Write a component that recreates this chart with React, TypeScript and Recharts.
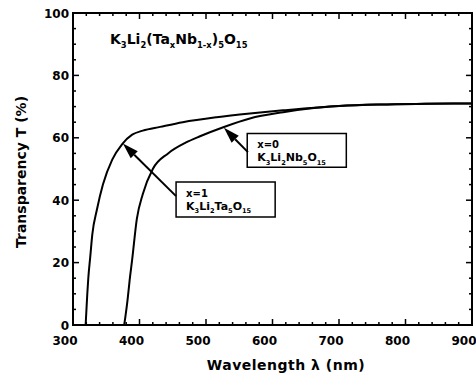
import React from 'react';
import { LineChart, Line, XAxis, YAxis, ReferenceLine, ReferenceArea } from 'recharts';

// x = 1, K3Li2Ta5O15
const wlTa = [319, 320, 321.5, 323, 326, 329, 336, 345, 359, 374, 389, 405, 431, 465, 516, 566, 616, 700, 762, 830, 900];
const tTa = [0, 4, 10, 15, 22, 29, 37, 45, 53, 58, 61, 62.3, 63.5, 65, 66.6, 67.8, 68.8, 70.2, 70.7, 70.9, 71];

// x = 0, K3Li2Nb5O15
const wlNb = [377, 379, 382, 385, 389, 396, 405, 420, 443, 470, 491, 526, 566, 616, 656, 700, 762, 830, 900];
const tNb = [0, 3, 8, 14, 21, 34, 42, 50, 55, 58.5, 60.5, 63.4, 66.2, 68.2, 69.4, 70.2, 70.7, 70.9, 71];

const xMajor = [300, 400, 500, 600, 700, 800, 900];
const xMinor = [320, 340, 360, 380, 420, 440, 460, 480, 520, 540, 560, 580, 620, 640, 660, 680, 720, 740, 760, 780, 820, 840, 860, 880];
const yMajor = [0, 20, 40, 60, 80, 100];
const yMinor = [5, 10, 15, 25, 30, 35, 45, 50, 55, 65, 70, 75, 85, 90, 95];

const taData = wlTa.map((w, i) => ({ wl: w, t: tTa[i] }));
const nbData = wlNb.map((w, i) => ({ wl: w, t: tNb[i] }));

const FONT = '"DejaVu Sans", sans-serif';

type Part = [string, boolean];

function Chem({ x, y, parts, size }: { x: number; y: number; parts: Part[]; size: number }) {
  let prevSub = false;
  return (
    <text x={x} y={y} fontFamily={FONT} fontWeight="bold" fontSize={size} fill="#000">
      {parts.map(([t, sub], i) => {
        const dy = sub && !prevSub ? size * 0.3 : !sub && prevSub ? -size * 0.3 : 0;
        prevSub = sub;
        return (
          <tspan key={i} dy={dy} fontSize={sub ? size * 0.6 : size}>
            {t}
          </tspan>
        );
      })}
    </text>
  );
}

const titleParts: Part[] = [
  ['K', false], ['3', true], ['Li', false], ['2', true], ['(Ta', false], ['x', true],
  ['Nb', false], ['1-x', true], [')', false], ['5', true], ['O', false], ['15', true],
];
const nbParts: Part[] = [['K', false], ['3', true], ['Li', false], ['2', true], ['Nb', false], ['5', true], ['O', false], ['15', true]];
const taParts: Part[] = [['K', false], ['3', true], ['Li', false], ['2', true], ['Ta', false], ['5', true], ['O', false], ['15', true]];

const BottomLabel = (p: any) => (
  <text x={p.x - 8} y={p.y + 20} textAnchor="middle" fontFamily={FONT} fontWeight="bold" fontSize={12} fill="#000">
    {p.payload.value}
  </text>
);

const LeftLabel = (p: any) => (
  <text x={p.x - 4} y={p.y + 4.5} textAnchor="end" fontFamily={FONT} fontWeight="bold" fontSize={12} fill="#000">
    {p.payload.value}
  </text>
);

// inward tick marks on both ends of a full-height / full-width reference line
const vTicks = (len: number) => (p: any) => {
  const top = Math.min(p.y1, p.y2);
  const bot = Math.max(p.y1, p.y2);
  return (
    <g>
      <line x1={p.x1} y1={bot} x2={p.x1} y2={bot - len} stroke="#000" strokeWidth={1.5} />
      <line x1={p.x1} y1={top} x2={p.x1} y2={top + len} stroke="#000" strokeWidth={1.5} />
    </g>
  );
};

const hTicks = (len: number) => (p: any) => {
  const l = Math.min(p.x1, p.x2);
  const r = Math.max(p.x1, p.x2);
  return (
    <g>
      <line x1={l} y1={p.y1} x2={l + len} y2={p.y1} stroke="#000" strokeWidth={1.5} />
      <line x1={r} y1={p.y1} x2={r - len} y2={p.y1} stroke="#000" strokeWidth={1.5} />
    </g>
  );
};

const Arrow = (p: any) => {
  const { x1, y1, x2, y2 } = p;
  const dx = x2 - x1;
  const dy = y2 - y1;
  const len = Math.sqrt(dx * dx + dy * dy) || 1;
  const ux = dx / len;
  const uy = dy / len;
  const hl = 16;
  const hw = 5;
  const bx = x2 - ux * hl;
  const by = y2 - uy * hl;
  return (
    <g>
      <line x1={x1} y1={y1} x2={bx} y2={by} stroke="#000" strokeWidth={2} />
      <polygon
        points={`${x2},${y2} ${bx - uy * hw},${by + ux * hw} ${bx + uy * hw},${by - ux * hw}`}
        fill="#000"
      />
    </g>
  );
};

const boxLabel = (top: string, parts: Part[]) => (props: any) => {
  const vb = props.viewBox;
  return (
    <g>
      <text x={vb.x + 10} y={vb.y + 15} fontFamily={FONT} fontWeight="bold" fontSize={10} fill="#000">
        {top}
      </text>
      <Chem x={vb.x + 10} y={vb.y + 28} parts={parts} size={11} />
    </g>
  );
};

export default function App() {
  return (
    <div style={{ position: 'absolute', left: 0, top: 0, background: '#fff' }}>
      <LineChart width={476} height={376} margin={{ top: 13, right: 4, bottom: 0, left: 0 }}>
        <XAxis
          xAxisId="b"
          dataKey="wl"
          type="number"
          domain={[300, 900]}
          ticks={xMajor}
          interval={0}
          height={51}
          axisLine={{ stroke: '#000', strokeWidth: 2 }}
          tickLine={false}
          tickSize={0}
          tickMargin={0}
          tick={BottomLabel}
          allowDataOverflow
        />
        <YAxis
          yAxisId="l"
          type="number"
          domain={[0, 100]}
          ticks={yMajor}
          interval={0}
          width={73}
          axisLine={{ stroke: '#000', strokeWidth: 2 }}
          tickLine={false}
          tickSize={0}
          tickMargin={0}
          tick={LeftLabel}
          allowDataOverflow
        />
        <ReferenceArea
          xAxisId="b"
          yAxisId="l"
          x1={300}
          x2={900}
          y1={0}
          y2={100}
          fill="none"
          stroke="#000"
          strokeWidth={2}
        />
        {xMajor.map((v) => (
          <ReferenceLine key={'xM' + v} xAxisId="b" yAxisId="l" x={v} shape={vTicks(6)} />
        ))}
        {xMinor.map((v) => (
          <ReferenceLine key={'xm' + v} xAxisId="b" yAxisId="l" x={v} shape={vTicks(3)} />
        ))}
        {yMajor.map((v) => (
          <ReferenceLine key={'yM' + v} xAxisId="b" yAxisId="l" y={v} shape={hTicks(6)} />
        ))}
        {yMinor.map((v) => (
          <ReferenceLine key={'ym' + v} xAxisId="b" yAxisId="l" y={v} shape={hTicks(3)} />
        ))}
        <Line
          xAxisId="b"
          yAxisId="l"
          data={taData}
          dataKey="t"
          type="monotone"
          stroke="#000"
          strokeWidth={2}
          dot={false}
          isAnimationActive={false}
        />
        <Line
          xAxisId="b"
          yAxisId="l"
          data={nbData}
          dataKey="t"
          type="monotone"
          stroke="#000"
          strokeWidth={2}
          dot={false}
          isAnimationActive={false}
        />
        <ReferenceLine
          xAxisId="b"
          yAxisId="l"
          segment={[{ x: 455, y: 41.3 }, { x: 375, y: 58.2 }]}
          shape={Arrow}
        />
        <ReferenceLine
          xAxisId="b"
          yAxisId="l"
          segment={[{ x: 563, y: 55.4 }, { x: 527, y: 63.2 }]}
          shape={Arrow}
        />
        <ReferenceArea
          xAxisId="b"
          yAxisId="l"
          x1={455}
          x2={604}
          y1={34.6}
          y2={45.8}
          fill="#fff"
          fillOpacity={1}
          stroke="#000"
          strokeWidth={1.5}
          label={boxLabel('x=1', taParts)}
        />
        <ReferenceArea
          xAxisId="b"
          yAxisId="l"
          x1={562}
          x2={711}
          y1={50.6}
          y2={61.4}
          fill="#fff"
          fillOpacity={1}
          stroke="#000"
          strokeWidth={1.5}
          label={boxLabel('x=0', nbParts)}
        />
        <Chem x={110} y={44} parts={titleParts} size={14} />
        <text
          x={286}
          y={370}
          textAnchor="middle"
          fontFamily={FONT}
          fontWeight="bold"
          fontSize={14}
          letterSpacing={0.5}
          fill="#000"
        >
          Wavelength λ (nm)
        </text>
        <text
          transform="translate(26,172) rotate(-90)"
          textAnchor="middle"
          fontFamily={FONT}
          fontWeight="bold"
          fontSize={14}
          fill="#000"
        >
          Transparency T (%)
        </text>
      </LineChart>
    </div>
  );
}
